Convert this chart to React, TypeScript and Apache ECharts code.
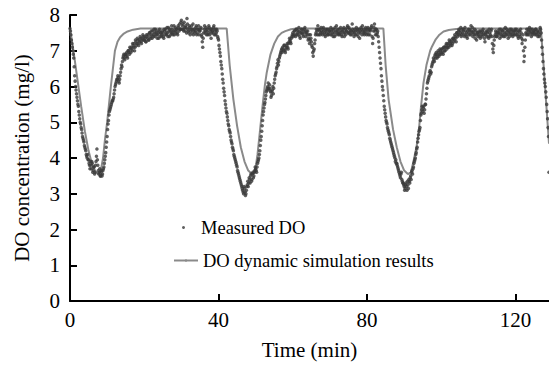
import React, { useEffect, useRef } from "react";
import * as echarts from "echarts";

// Measured DO, sampled every 0.25 min starting at t = 0 (one row = 5 min)
const SAMPLE_STEP = 0.25;
const measuredDO: number[] = [
  7.62, 7.45, 7.2, 7.0, 6.8, 6.3, 6.0, 5.8, 5.6, 5.45, 5.2, 5.0, 4.85, 4.7, 4.55, 4.45, 4.3, 4.2, 4.05, 4.1,
  3.95, 3.8, 3.9, 3.7, 3.85, 3.65, 3.75, 3.6, 3.9, 4.25, 3.8, 3.55, 3.7, 3.5, 3.65, 3.55, 3.7, 3.85, 4.05, 4.3,
  4.6, 4.95, 5.2, 5.35, 5.45, 5.55, 5.6, 5.7, 5.9, 6.05, 6.15, 6.2, 6.25, 6.1, 6.3, 6.5, 6.55, 6.8, 6.9, 6.75,
  6.85, 6.95, 6.8, 7.0, 6.9, 7.05, 7.1, 7.0, 7.15, 7.2, 7.1, 7.25, 7.2, 7.3, 7.15, 7.25, 7.35, 7.2, 7.3, 7.4,
  7.3, 7.35, 7.25, 7.4, 7.45, 7.3, 7.5, 7.35, 7.45, 7.55, 7.4, 7.5, 7.6, 7.45, 7.35, 7.5, 7.55, 7.4, 7.5, 7.45,
  7.5, 7.35, 7.55, 7.6, 7.45, 7.5, 7.65, 7.4, 7.55, 7.5, 7.6, 7.45, 7.7, 7.55, 7.5, 7.6, 7.45, 7.65, 7.75, 7.6,
  7.85, 7.7, 7.6, 7.8, 7.55, 7.65, 7.9, 7.6, 7.5, 7.65, 7.55, 7.7, 7.6, 7.45, 7.6, 7.55, 7.7, 7.5, 7.6, 7.45,
  7.55, 7.65, 7.4, 7.1, 7.5, 7.7, 7.55, 7.45, 7.6, 7.5, 7.65, 7.55, 7.35, 7.6, 7.5, 7.7, 7.55, 7.45, 7.6, 7.4,
  7.3, 7.05, 6.85, 6.6, 6.35, 6.1, 5.85, 5.6, 5.4, 5.25, 5.05, 4.9, 4.75, 4.6, 4.45, 4.3, 4.2, 4.05, 3.95, 3.85,
  3.75, 3.6, 3.5, 3.4, 3.3, 3.2, 3.1, 3.0, 3.15, 2.95, 3.1, 3.25, 3.2, 3.45, 3.3, 3.55, 3.4, 3.6, 3.5, 3.65,
  3.7, 3.6, 3.85, 3.95, 4.1, 4.35, 4.6, 4.9, 5.2, 5.4, 5.55, 5.75, 5.9, 6.0, 5.95, 6.05, 5.85, 5.75, 5.9, 5.8,
  6.1, 6.3, 6.4, 6.55, 6.75, 6.7, 6.85, 6.95, 7.05, 7.1, 7.0, 7.15, 6.95, 7.1, 7.2, 7.05, 7.25, 7.3, 7.2, 7.4,
  7.5, 7.45, 7.55, 7.4, 7.6, 7.5, 7.45, 7.55, 7.35, 7.5, 7.6, 7.45, 7.55, 7.65, 7.4, 7.5, 7.55, 7.35, 7.2, 7.45,
  7.25, 7.1, 6.85, 7.05, 7.3, 7.5, 7.55, 7.7, 7.45, 7.6, 7.5, 7.55, 7.45, 7.65, 7.5, 7.4, 7.55, 7.6, 7.45, 7.5,
  7.55, 7.65, 7.45, 7.5, 7.6, 7.4, 7.55, 7.7, 7.5, 7.45, 7.6, 7.5, 7.55, 7.4, 7.6, 7.65, 7.5, 7.45, 7.55, 7.7,
  7.5, 7.6, 7.45, 7.55, 7.75, 7.5, 7.4, 7.6, 7.55, 7.45, 7.6, 7.5, 7.35, 7.55, 7.6, 7.7, 7.5, 7.45, 7.55, 7.6,
  7.5, 7.65, 7.55, 7.45, 7.6, 7.7, 7.2, 7.55, 7.75, 7.45, 7.6, 7.5, 7.4, 7.1, 6.8, 6.5, 6.15, 5.9, 5.6, 5.35,
  5.15, 5.0, 4.85, 4.75, 4.65, 4.5, 4.4, 4.3, 4.2, 4.1, 4.0, 3.95, 3.85, 3.75, 3.65, 3.55, 3.45, 3.6, 3.35, 3.3,
  3.2, 3.15, 3.3, 3.1, 3.25, 3.4, 3.3, 3.5, 3.6, 3.55, 3.75, 3.9, 4.0, 4.15, 4.3, 4.55, 4.75, 4.85, 5.2, 5.35,
  5.3, 5.45, 5.35, 5.5, 5.8, 6.1, 6.2, 6.3, 6.45, 6.4, 6.6, 6.7, 6.75, 6.85, 6.8, 6.9, 6.85, 6.95, 6.9, 7.0,
  6.95, 7.05, 6.9, 7.1, 7.0, 7.15, 7.05, 7.2, 7.1, 7.25, 7.15, 7.3, 7.2, 7.35, 7.3, 7.4, 7.25, 7.5, 7.45, 7.6,
  7.55, 7.65, 7.45, 7.5, 7.6, 7.4, 7.55, 7.5, 7.35, 7.6, 7.45, 7.55, 7.7, 7.5, 7.4, 7.55, 7.6, 7.45, 7.3, 7.5,
  7.45, 7.55, 7.35, 7.5, 7.4, 7.6, 7.45, 7.25, 7.5, 7.4, 7.55, 7.35, 7.5, 7.45, 7.6, 7.2, 6.95, 7.3, 7.45, 7.5,
  7.4, 7.55, 7.5, 7.35, 7.6, 7.45, 7.55, 7.4, 7.5, 7.65, 7.45, 7.55, 7.35, 7.5, 7.6, 7.45, 7.55, 7.4, 7.5, 7.55,
  7.45, 7.6, 7.5, 7.35, 7.55, 7.4, 7.5, 7.2, 7.45, 6.7, 7.1, 7.5, 7.6, 7.45, 7.55, 7.65, 7.5, 7.4, 7.6, 7.5,
  7.55, 7.45, 7.6, 7.5, 7.4, 7.55, 7.45, 7.6, 7.3, 6.9, 6.5, 6.2, 6.0, 5.7, 5.3, 4.85, 3.6,
];

// Interleaved measured readings, every 0.25 min starting at t = 0.125 (one row = 5 min)
const SAMPLE_OFFSET_B = 0.125;
const measuredDOB: number[] = [
  7.55, 7.3, 7.1, 6.9, 6.55, 6.15, 5.9, 5.7, 5.5, 5.3, 5.1, 4.95, 4.8, 4.6, 4.5, 4.35, 4.25, 4.1, 4.0, 3.95,
  3.85, 3.7, 3.8, 3.9, 3.6, 3.75, 3.55, 3.8, 4.05, 3.95, 3.65, 3.6, 3.5, 3.6, 3.5, 3.65, 3.75, 3.95, 4.15, 4.45,
  4.8, 5.05, 5.3, 5.4, 5.5, 5.6, 5.65, 5.8, 6.0, 6.1, 6.2, 6.3, 6.15, 6.2, 6.4, 6.6, 6.7, 6.85, 6.8, 6.9,
  6.9, 6.85, 7.0, 6.95, 7.1, 6.95, 7.05, 7.2, 7.1, 7.0, 7.3, 7.15, 7.35, 7.2, 7.3, 7.4, 7.25, 7.35, 7.45, 7.3,
  7.4, 7.25, 7.45, 7.35, 7.3, 7.5, 7.4, 7.55, 7.35, 7.45, 7.6, 7.4, 7.5, 7.55, 7.45, 7.35, 7.6, 7.5, 7.4, 7.55,
  7.4, 7.6, 7.45, 7.5, 7.65, 7.4, 7.55, 7.6, 7.45, 7.7, 7.5, 7.55, 7.45, 7.65, 7.6, 7.5, 7.7, 7.55, 7.6, 7.8,
  7.6, 7.75, 7.55, 7.65, 7.7, 7.5, 7.75, 7.55, 7.7, 7.45, 7.6, 7.5, 7.75, 7.55, 7.5, 7.65, 7.45, 7.6, 7.7, 7.55,
  7.6, 7.45, 7.25, 7.35, 7.6, 7.5, 7.65, 7.55, 7.45, 7.7, 7.45, 7.6, 7.5, 7.55, 7.65, 7.45, 7.6, 7.5, 7.55, 7.35,
  7.15, 6.95, 6.7, 6.5, 6.2, 5.95, 5.75, 5.5, 5.3, 5.15, 4.95, 4.8, 4.7, 4.5, 4.4, 4.25, 4.1, 4.0, 3.9, 3.8,
  3.65, 3.55, 3.45, 3.35, 3.25, 3.15, 3.05, 3.2, 3.05, 3.0, 3.2, 3.35, 3.3, 3.4, 3.5, 3.35, 3.55, 3.45, 3.6, 3.75,
  3.65, 3.75, 3.9, 4.0, 4.2, 4.5, 4.75, 5.05, 5.3, 5.5, 5.65, 5.85, 5.95, 6.1, 5.9, 5.95, 5.7, 5.85, 6.0, 5.95,
  6.2, 6.35, 6.5, 6.65, 6.6, 6.8, 6.9, 7.0, 6.95, 7.05, 7.15, 7.0, 7.05, 7.15, 7.1, 7.2, 7.35, 7.25, 7.35, 7.45,
  7.4, 7.55, 7.45, 7.6, 7.45, 7.55, 7.65, 7.4, 7.5, 7.6, 7.5, 7.4, 7.6, 7.5, 7.55, 7.45, 7.3, 7.45, 7.3, 7.35,
  7.15, 6.95, 7.0, 7.2, 7.45, 7.6, 7.45, 7.6, 7.55, 7.45, 7.65, 7.5, 7.6, 7.55, 7.45, 7.6, 7.5, 7.45, 7.6, 7.55,
  7.45, 7.55, 7.6, 7.4, 7.5, 7.65, 7.45, 7.55, 7.6, 7.5, 7.45, 7.65, 7.45, 7.55, 7.5, 7.4, 7.6, 7.55, 7.65, 7.5,
  7.65, 7.5, 7.55, 7.45, 7.6, 7.55, 7.5, 7.45, 7.65, 7.55, 7.4, 7.6, 7.5, 7.65, 7.45, 7.55, 7.6, 7.5, 7.65, 7.45,
  7.6, 7.45, 7.6, 7.55, 7.65, 7.4, 7.35, 7.65, 7.55, 7.6, 7.45, 7.55, 7.25, 6.95, 6.65, 6.3, 6.0, 5.75, 5.45, 5.25,
  5.05, 4.95, 4.8, 4.7, 4.55, 4.45, 4.35, 4.25, 4.15, 4.05, 3.9, 3.85, 3.8, 3.7, 3.6, 3.5, 3.55, 3.4, 3.3, 3.25,
  3.1, 3.25, 3.2, 3.35, 3.15, 3.35, 3.45, 3.4, 3.65, 3.7, 3.85, 3.95, 4.1, 4.25, 4.45, 4.65, 4.8, 5.05, 5.25, 5.45,
  5.4, 5.25, 5.5, 5.65, 5.95, 6.15, 6.25, 6.4, 6.35, 6.55, 6.65, 6.8, 6.7, 6.9, 6.95, 6.8, 7.0, 6.85, 7.05, 6.9,
  7.05, 6.95, 7.1, 7.0, 7.1, 7.2, 7.1, 7.15, 7.3, 7.2, 7.25, 7.15, 7.35, 7.25, 7.45, 7.35, 7.5, 7.4, 7.55, 7.45,
  7.5, 7.4, 7.6, 7.55, 7.45, 7.65, 7.45, 7.4, 7.55, 7.5, 7.6, 7.45, 7.55, 7.65, 7.5, 7.45, 7.35, 7.55, 7.5, 7.4,
  7.5, 7.4, 7.55, 7.45, 7.55, 7.5, 7.35, 7.45, 7.55, 7.5, 7.4, 7.6, 7.4, 7.55, 7.4, 7.05, 7.15, 7.4, 7.55, 7.4,
  7.5, 7.45, 7.6, 7.5, 7.4, 7.55, 7.45, 7.6, 7.4, 7.5, 7.6, 7.45, 7.55, 7.4, 7.5, 7.6, 7.45, 7.55, 7.45, 7.6,
  7.55, 7.45, 7.4, 7.55, 7.45, 7.6, 7.35, 7.3, 7.0, 6.85, 7.3, 7.45, 7.5, 7.6, 7.45, 7.55, 7.6, 7.5, 7.45, 7.55,
  7.5, 7.6, 7.45, 7.55, 7.5, 7.4, 7.65, 7.5, 7.1, 6.7, 6.35, 6.1, 5.85, 5.5, 5.1, 4.6,
];

// DO dynamic simulation results
const simTime: number[] = [
  0, 0.5, 1, 2, 3, 4, 5, 6, 7, 7.8, 8.3, 8.9, 9.4, 10, 10.5, 11, 11.5, 12.1, 12.8, 13.5,
  14.5, 15.5, 17, 19, 42.2, 43, 44, 45, 46, 47, 48, 49, 49.8, 50.5, 51, 51.5, 52, 52.5, 53, 53.5,
  54, 55, 56, 57, 58, 59.5, 61, 84.4, 85, 85.8, 87, 88, 89, 90, 91, 91.8, 92.5, 93.3, 93.9, 94.5,
  95.2, 96, 97, 97.5, 98.5, 99.5, 100.6, 102, 104, 105.5, 126.8, 127.6, 128, 128.6, 129,
];
const simDO: number[] = [
  7.62, 7.3, 6.95, 6.2, 5.45, 4.75, 4.2, 3.8, 3.6, 3.55, 3.65, 4.0, 4.5, 5.0, 5.5, 6.0, 6.45, 7.0, 7.25, 7.38,
  7.48, 7.54, 7.59, 7.62, 7.62, 6.6, 5.64, 4.9, 4.3, 3.9, 3.65, 3.55, 3.6, 4.1, 4.6, 5.1, 5.6, 6.05, 6.4, 6.65,
  6.9, 7.2, 7.4, 7.5, 7.55, 7.6, 7.62, 7.62, 6.6, 5.64, 4.8, 4.3, 3.9, 3.65, 3.55, 3.6, 3.9, 4.3, 4.72, 5.4,
  6.1, 6.6, 7.0, 7.12, 7.32, 7.45, 7.54, 7.58, 7.61, 7.62, 7.62, 6.52, 5.9, 5.0, 4.4,
];

const X_MIN = 0;
const X_MAX = 129;
const X_INTERVAL = 40;
const Y_MIN = 0;
const Y_MAX = 8;
const Y_INTERVAL = 1;

const SERIES_MEASURED = "Measured DO";
const SERIES_SIM = "DO dynamic simulation results";
const X_TITLE = "Time (min)";
const Y_TITLE = "DO concentration (mg/l)";

const FONT = "'Liberation Serif', 'Times New Roman', serif";

export default function App() {
  const ref = useRef<HTMLDivElement>(null);

  useEffect(() => {
    if (!ref.current) return;
    const chart = echarts.init(ref.current, null, { renderer: "svg" });

    const measData = [
      ...measuredDO.map((v, i) => [i * SAMPLE_STEP, v]),
      ...measuredDOB.map((v, i) => [SAMPLE_OFFSET_B + i * SAMPLE_STEP, v]),
    ];
    const simData = simTime.map((t, i) => [t, simDO[i]]);

    const axisCommon = {
      axisLine: { show: true, onZero: false, lineStyle: { color: "#000", width: 2 } },
      axisTick: { show: true, inside: true, length: 7, lineStyle: { color: "#000", width: 2 } },
      splitLine: { show: false },
      nameTextStyle: { fontSize: 21, color: "#000", fontFamily: FONT },
    };

    chart.setOption({
      animation: false,
      textStyle: { fontFamily: FONT },
      grid: { left: 70, right: 0, top: 15, bottom: 62, containLabel: false },
      xAxis: {
        type: "value",
        min: X_MIN,
        max: X_MAX,
        interval: X_INTERVAL,
        name: X_TITLE,
        nameLocation: "middle",
        nameGap: 38,
        ...axisCommon,
        axisLabel: { fontSize: 21, color: "#000", margin: 8, showMaxLabel: false, fontFamily: FONT },
      },
      yAxis: {
        type: "value",
        min: Y_MIN,
        max: Y_MAX,
        interval: Y_INTERVAL,
        name: Y_TITLE,
        nameLocation: "middle",
        nameRotate: 90,
        nameGap: 38,
        ...axisCommon,
        axisLabel: { fontSize: 21, color: "#000", margin: 10, fontFamily: FONT },
      },
      legend: [
        {
          data: [SERIES_MEASURED],
          left: 182,
          top: 218,
          padding: 0,
          itemWidth: 25,
          itemHeight: 3,
          itemGap: 5,
          textStyle: { fontSize: 18.5, color: "#000", fontFamily: FONT },
        },
        {
          data: [SERIES_SIM],
          left: 173,
          top: 251,
          padding: 0,
          itemWidth: 24,
          itemHeight: 3,
          itemGap: 5,
          textStyle: { fontSize: 18.5, color: "#000", fontFamily: FONT },
        },
      ],
      series: [
        {
          name: SERIES_SIM,
          type: "line",
          data: simData,
          symbol: "none",
          showSymbol: false,
          lineStyle: { color: "#8a8a8a", width: 2 },
          itemStyle: { color: "#8a8a8a" },
          z: 1,
        },
        {
          name: SERIES_MEASURED,
          type: "scatter",
          data: measData,
          symbol: "circle",
          symbolSize: 3.5,
          itemStyle: { color: "#3a3a3a" },
          z: 2,
        },
      ],
    });

    return () => chart.dispose();
  }, []);

  return (
    <div
      ref={ref}
      style={{ position: "fixed", left: 0, top: 0, width: 549, height: 365, background: "#fff" }}
    />
  );
}
